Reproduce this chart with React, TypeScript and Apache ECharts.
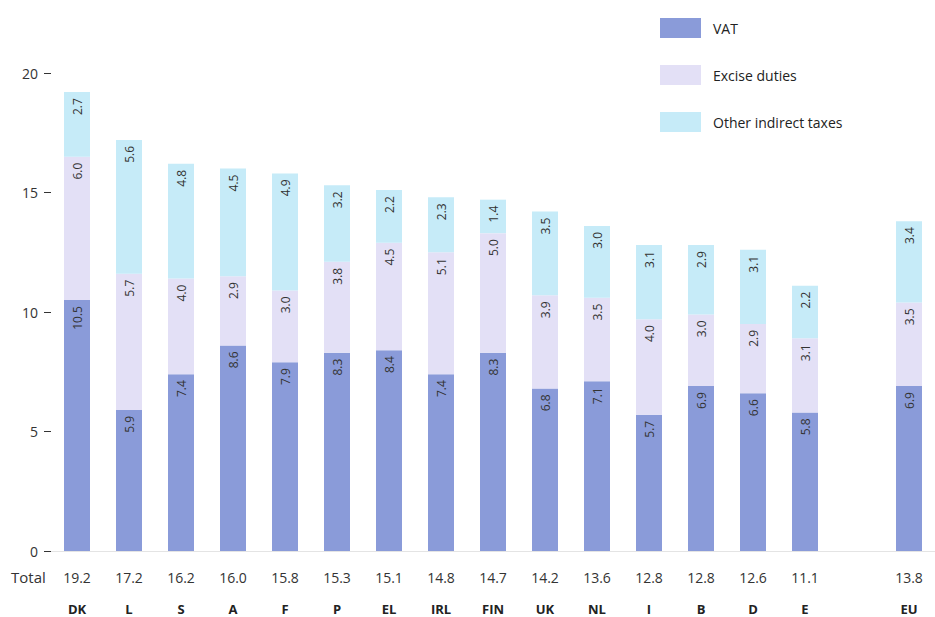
import React, { useEffect, useRef } from "react";
import * as echarts from "echarts";

// Indirect taxes as % of GDP, by member state
const countries = ["DK", "L", "S", "A", "F", "P", "EL", "IRL", "FIN", "UK", "NL", "I", "B", "D", "E", "EU"];
const vat = [10.5, 5.9, 7.4, 8.6, 7.9, 8.3, 8.4, 7.4, 8.3, 6.8, 7.1, 5.7, 6.9, 6.6, 5.8, 6.9];
const excise = [6.0, 5.7, 4.0, 2.9, 3.0, 3.8, 4.5, 5.1, 5.0, 3.9, 3.5, 4.0, 3.0, 2.9, 3.1, 3.5];
const other = [2.7, 5.6, 4.8, 4.5, 4.9, 3.2, 2.2, 2.3, 1.4, 3.5, 3.0, 3.1, 2.9, 3.1, 2.2, 3.4];
const totals = [19.2, 17.2, 16.2, 16.0, 15.8, 15.3, 15.1, 14.8, 14.7, 14.2, 13.6, 12.8, 12.8, 12.6, 11.1, 13.8];
const yTicks = [0, 5, 10, 15, 20];

const FONT = "'Open Sans', 'Noto Sans', sans-serif";

// an empty slot separates the EU average from the member states
const withGap = <T,>(arr: T[], gap: T): T[] => [...arr.slice(0, -1), gap, arr[arr.length - 1]];

export default function App() {
  const ref = useRef<HTMLDivElement>(null);

  useEffect(() => {
    if (!ref.current) return;
    const chart = echarts.init(ref.current, undefined, { renderer: "svg" });

    const cats = withGap(countries, "");
    const totalsByCat: Record<string, string> = {};
    countries.forEach((c, i) => (totalsByCat[c] = totals[i].toFixed(1)));

    const segLabel = {
      show: true,
      position: "insideTop",
      rotate: 90,
      align: "right",
      verticalAlign: "middle",
      distance: 6,
      color: "#333",
      fontSize: 12,
      fontFamily: FONT,
      formatter: (p: any) => (p.value == null ? "" : Number(p.value).toFixed(1)),
    };

    const mk = (name: string, values: number[], color: string) => ({
      name,
      type: "bar",
      stack: "tax",
      barWidth: 26,
      xAxisIndex: 0,
      data: withGap<number | null>(values, null),
      itemStyle: { color },
      label: segLabel,
    });

    chart.setOption({
      animation: false,
      backgroundColor: "#fff",
      textStyle: { fontFamily: FONT },
      legend: {
        orient: "vertical",
        left: 655,
        top: 13,
        itemWidth: 41,
        itemHeight: 20,
        itemGap: 27,
        icon: "rect",
        textStyle: { fontSize: 14, color: "#222", fontFamily: FONT, padding: [0, 0, 0, 7] },
        data: ["VAT", "Excise duties", "Other indirect taxes"],
      },
      grid: { left: 51, right: -11, top: 73, bottom: 66 },
      xAxis: [
        {
          // totals row
          type: "category",
          data: cats,
          axisLine: { show: true, lineStyle: { color: "#e4e4e4", width: 1 } },
          axisTick: { show: false },
          axisLabel: {
            interval: 0,
            margin: 19,
            fontSize: 14,
            color: "#333",
            fontFamily: FONT,
            formatter: (v: string) => (v ? totalsByCat[v] : ""),
          },
        },
        {
          // country codes row
          type: "category",
          data: cats,
          position: "bottom",
          axisLine: { show: false },
          axisTick: { show: false },
          axisLabel: {
            interval: 0,
            margin: 51,
            fontSize: 13,
            fontWeight: "bold",
            color: "#222",
            fontFamily: FONT,
          },
        },
      ],
      yAxis: {
        type: "value",
        min: yTicks[0],
        max: yTicks[yTicks.length - 1],
        interval: 5,
        splitLine: { show: false },
        axisLine: { show: false },
        axisTick: { show: true, length: 7, lineStyle: { color: "#333", width: 1 } },
        axisLabel: { fontSize: 14, color: "#333", margin: 13, padding: [0, 0, 5, 0], fontFamily: FONT },
      },
      graphic: [
        {
          type: "text",
          left: 11,
          top: 569,
          style: { text: "Total", fontSize: 15, fill: "#333", fontFamily: FONT },
        },
      ],
      series: [
        mk("VAT", vat, "#8a9bd9"),
        mk("Excise duties", excise, "#e3e0f6"),
        mk("Other indirect taxes", other, "#c6ebf8"),
      ],
    });

    return () => chart.dispose();
  }, []);

  return (
    <div
      ref={ref}
      style={{ position: "fixed", left: 0, top: 0, width: 935, height: 617 }}
    />
  );
}
